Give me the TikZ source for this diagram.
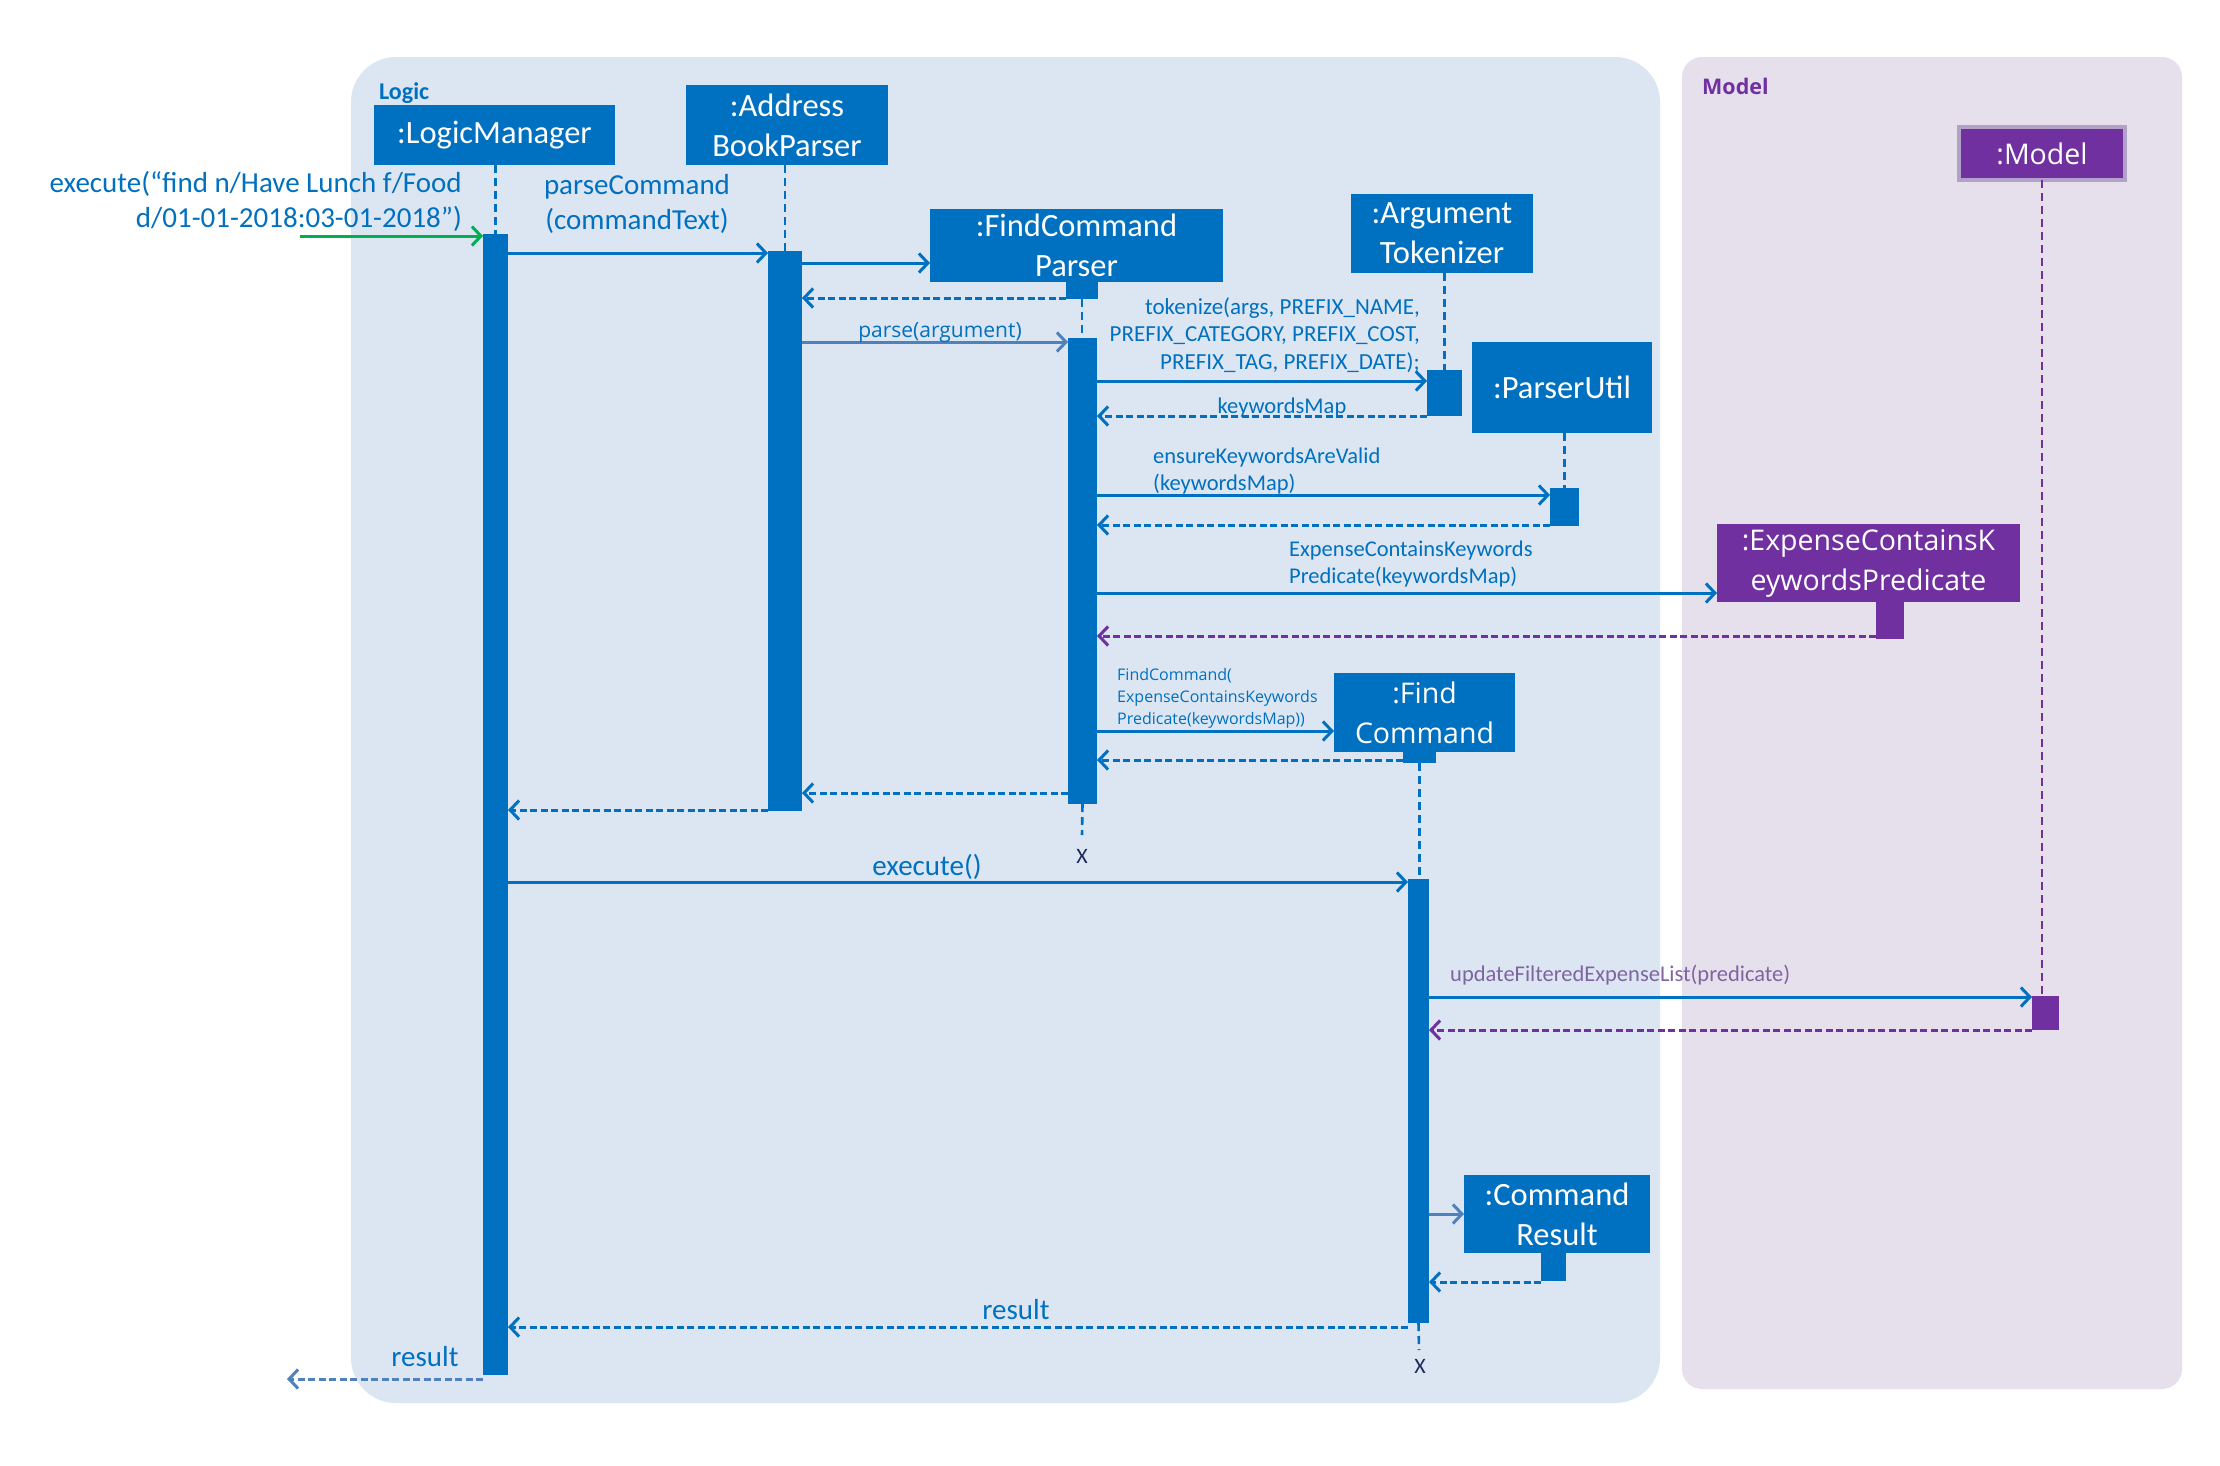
\documentclass[tikz,border=0pt]{standalone}
\usepackage{fontspec}
\setmainfont{Carlito}
\newfontfamily\osans{Open Sans}
\usetikzlibrary{arrows.meta}
\definecolor{cblue}{HTML}{0070C0}
\definecolor{cpurple}{HTML}{7030A0}
\definecolor{logicbg}{HTML}{DCE6F2}
\definecolor{modelbg}{HTML}{E5E0EC}
\definecolor{steel}{HTML}{4F81BD}
\definecolor{cgreen}{HTML}{00B050}
\definecolor{lpurple}{HTML}{B3A2C7}
\definecolor{navy}{HTML}{1F2A5C}
\definecolor{greypurple}{HTML}{8064A2}
\begin{document}
\begin{tikzpicture}[x=1pt,y=-1pt,
  panel/.style={inner sep=0pt, outer sep=0pt, anchor=north west, draw=none},
  objbox/.style={fill=cblue, text=white, inner sep=0pt, outer sep=0pt, anchor=north west, align=center, font=\fontsize{32.5}{40}\selectfont},
  pobjbox/.style={objbox, fill=cpurple, font=\osans\fontsize{28.5}{40}\selectfont},
  actb/.style={fill=cblue, inner sep=0pt, outer sep=0pt, anchor=north west},
  life/.style={draw=cblue, line width=2.6pt, dash pattern=on 8pt off 5pt},
  msg/.style={draw=cblue, line width=3pt, -{Straight Barb[length=9pt,width=19pt]}},
  ret/.style={msg, dash pattern=on 7pt off 3.5pt},
  big/.style={text=cblue, inner sep=0pt, font=\fontsize{29}{35}\selectfont},
  small/.style={text=cblue, inner sep=0pt, font=\fontsize{22.5}{27.5}\selectfont},
  xmark/.style={text=navy, inner sep=0pt, font=\fontsize{22}{26}\selectfont}
]
\useasboundingbox (0,0) rectangle (2220,1465);
\fill[white] (0,0) rectangle (2220,1465);

% panels
\node[panel, fill=logicbg, rounded corners=45pt, minimum width=1309pt, minimum height=1346pt] (logicP) at (351,57) {};
\node[panel, fill=modelbg, rounded corners=20pt, minimum width=500pt, minimum height=1332pt] (modelP) at (1682,57) {};
\node[anchor=west, inner sep=0pt, text=cblue, font=\bfseries\fontsize{24}{28}\selectfont] (logicT) at (379,93) {Logic};
\node[anchor=west, inner sep=0pt, text=cpurple, font=\osans\bfseries\fontsize{21.5}{26}\selectfont] (modelT) at (1702,86) {Model};

% object boxes
\node[objbox, minimum width=241pt, minimum height=60pt] (lm) at (374,105) {:LogicManager};
\node[objbox, minimum width=202pt, minimum height=80pt] (abp) at (686,85) {:Address\\BookParser};
\node[objbox, minimum width=293pt, minimum height=73pt] (fcp) at (930,209) {:FindCommand\\Parser};
\node[objbox, minimum width=182pt, minimum height=79pt] (at) at (1351,194) {:Argument\\Tokenizer};
\node[objbox, minimum width=180pt, minimum height=91pt] (pu) at (1472,342) {:ParserUtil};
\node[pobjbox, minimum width=303pt, minimum height=78pt] (eckp) at (1717,524) {:ExpenseContainsK\\eywordsPredicate};
\node[pobjbox, draw=lpurple, line width=4pt, minimum width=166pt, minimum height=53pt] (model) at (1959,127) {:Model};
\node[objbox, font=\osans\fontsize{28.5}{40}\selectfont, minimum width=181pt, minimum height=79pt] (fc) at (1334,673) {:Find\\Command};
\node[objbox, minimum width=186pt, minimum height=78pt] (cr) at (1464,1175) {:Command\\Result};

% activation bars
\node[actb, minimum width=25pt, minimum height=1141pt] (lmA) at (483,234) {};
\node[actb, minimum width=34pt, minimum height=560pt] (abpA) at (768,251) {};
\node[actb, minimum width=32pt, minimum height=17pt] (fcpS) at (1066,282) {};
\node[actb, minimum width=29pt, minimum height=466pt] (fcpA) at (1068,338) {};
\node[actb, minimum width=35pt, minimum height=46pt] (atA) at (1427,370) {};
\node[actb, minimum width=29pt, minimum height=38pt] (puA) at (1550,488) {};
\node[actb, fill=cpurple, minimum width=28pt, minimum height=37pt] (eckpA) at (1876,602) {};
\node[actb, minimum width=33pt, minimum height=11pt] (fcS) at (1403,752) {};
\node[actb, minimum width=21pt, minimum height=444pt] (fcA) at (1408,879) {};
\node[actb, fill=cpurple, minimum width=27pt, minimum height=34pt] (modelA) at (2032,996) {};
\node[actb, minimum width=25pt, minimum height=28pt] (crA) at (1541,1253) {};

% lifelines
\draw[life] (lm.south -| lmA.north) -- (lmA.north);
\draw[life] (abp.south -| abpA.north) -- (abpA.north);
\draw[life] (fcpS.south) -- (fcpS.south |- fcpA.north);
\coordinate (fcpEnd) at (1082,835);
\draw[life] (fcpA.south) -- (fcpEnd);
\draw[life] (at.south -| atA.north) -- (atA.north);
\draw[life] (pu.south -| puA.north) -- (puA.north);
\draw[life, draw=cpurple] (model.south) -- (model.south |- modelA.north);
\draw[life] (fcS.south) -- (fcS.south |- fcA.north);
\coordinate (fcEnd) at (1419,1350);
\draw[life] (fcA.south) -- (fcEnd);
\node[xmark] (x1) at (1082,856) {X};
\node[xmark] (x2) at (1420,1366) {X};

% messages
\coordinate (inStart) at (300,236);
\draw[msg, draw=cgreen] (inStart) -- (lmA.west |- inStart);
\node[big, anchor=east, align=right] (tExec) at (462,201) {execute(“find n/Have Lunch f/Food\\d/01-01-2018:03-01-2018”)};

\draw[msg] (lmA.east |- 0,253) -- (abpA.west |- 0,253);
\node[big, align=center] (tParseCmd) at (637,204) {parseCommand\\(commandText)};

\draw[msg] (abpA.east |- 0,263) -- (fcp.west |- 0,263);
\draw[ret] (fcpS.west |- 0,298) -- (abpA.east |- 0,298);

\draw[msg, draw=steel] (abpA.east |- 0,342) -- (fcpA.west |- 0,342);
\node[text=cblue, inner sep=0pt, font=\osans\fontsize{21}{26}\selectfont] (tParse) at (940,333) {parse(argument)};

\draw[msg] (fcpA.east |- 0,381) -- (atA.west |- 0,381);
\node[small, anchor=east, align=right, font=\fontsize{23}{27.5}\selectfont] (tTok) at (1420,335) {tokenize(args, PREFIX\_NAME,\\PREFIX\_CATEGORY, PREFIX\_COST,\\PREFIX\_TAG, PREFIX\_DATE);};

\draw[ret] (atA.west |- 0,416) -- (fcpA.east |- 0,416);
\node[small] (tKM) at (1282,407) {keywordsMap};

\draw[msg] (fcpA.east |- 0,495) -- (puA.west |- 0,495);
\node[small, anchor=west, align=left] (tEns) at (1153,471) {ensureKeywordsAreValid\\(keywordsMap)};
\draw[ret] (puA.west |- 0,525) -- (fcpA.east |- 0,525);

\draw[msg] (fcpA.east |- 0,593) -- (eckp.west |- 0,593);
\node[small, anchor=west, align=left] (tEck) at (1289,564) {ExpenseContainsKeywords\\Predicate(keywordsMap)};
\draw[ret, draw=cpurple] (eckpA.west |- 0,636) -- (fcpA.east |- 0,636);

\draw[msg] (fcpA.east |- 0,731) -- (fc.west |- 0,731);
\node[text=cblue, inner sep=0pt, anchor=west, align=left, font=\osans\fontsize{16}{22}\selectfont] (tFC) at (1117,698) {FindCommand(\\ExpenseContainsKeywords\\Predicate(keywordsMap))};
\draw[ret] (fcS.west |- 0,760) -- (fcpA.east |- 0,760);

\draw[ret] (fcpA.west |- 0,793) -- (abpA.east |- 0,793);
\draw[ret] (abpA.west |- 0,810) -- (lmA.east |- 0,810);

\draw[msg] (lmA.east |- 0,882) -- (fcA.west |- 0,882);
\node[big] (tExe) at (927,867) {execute()};

\draw[msg] (fcA.east |- 0,997) -- (modelA.west |- 0,997);
\node[small, text=greypurple, anchor=west] (tUpd) at (1450,975) {updateFilteredExpenseList(predicate)};
\draw[ret, draw=cpurple] (modelA.west |- 0,1030) -- (fcA.east |- 0,1030);

\draw[msg, draw=steel] (fcA.east |- 0,1214) -- (cr.west |- 0,1214);
\draw[ret] (crA.west |- 0,1282) -- (fcA.east |- 0,1282);

\draw[ret] (fcA.west |- 0,1327) -- (lmA.east |- 0,1327);
\node[big] (tRes) at (1016,1310) {result};

\coordinate (outEnd) at (287,1379);
\draw[ret, draw=steel] (lmA.west |- outEnd) -- (outEnd);
\node[big] (tRes2) at (425,1357) {result};
\end{tikzpicture}
\end{document}
